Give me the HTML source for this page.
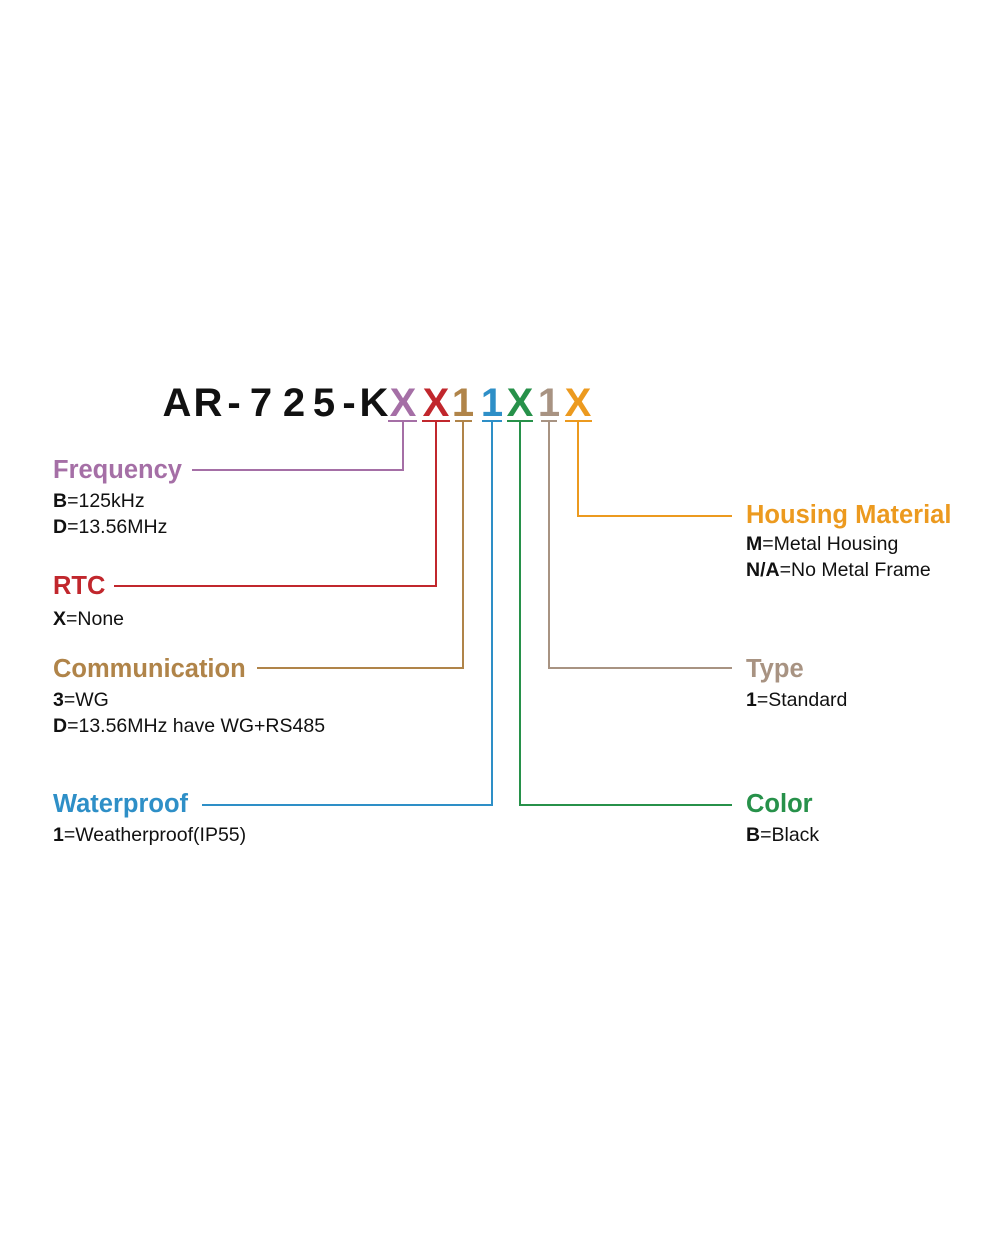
<!DOCTYPE html>
<html><head><meta charset="utf-8"><style>
html,body{margin:0;padding:0;background:#fff;}
svg{display:block}
.h{font-family:"Liberation Sans",sans-serif;font-weight:bold;font-size:25.5px}
.s{font-family:"Liberation Sans",sans-serif;font-size:19.5px;fill:#111}
.s tspan.b{font-weight:bold}
.t{font-family:"Liberation Sans",sans-serif;font-weight:bold;font-size:40px;text-anchor:middle}
</style></head><body>
<svg width="1000" height="1250" viewBox="0 0 1000 1250" xmlns="http://www.w3.org/2000/svg">
<g class="t">
<text x="177" y="416" fill="#111">A</text>
<text x="208" y="416" fill="#111">R</text>
<text x="234" y="416" fill="#111">-</text>
<text x="261" y="416" fill="#111">7</text>
<text x="294" y="416" fill="#111">2</text>
<text x="324" y="416" fill="#111">5</text>
<text x="349" y="416" fill="#111">-</text>
<text x="374" y="416" fill="#111">K</text>
<text x="403" y="416" fill="#a56fa6">X</text>
<text x="436" y="416" fill="#c1272d">X</text>
<text x="463" y="416" fill="#b08449">1</text>
<text x="492" y="416" fill="#2e8fc7">1</text>
<text x="520" y="416" fill="#27914a">X</text>
<text x="549" y="416" fill="#a89382">1</text>
<text x="578" y="416" fill="#ec9a1f">X</text>
</g>
<g fill="none" stroke-width="2">
<path d="M388 421H417M403 421V470H192" stroke="#a56fa6"/>
<path d="M422 421H450M436 421V586H114" stroke="#c1272d"/>
<path d="M455 421H472M463 421V668H257" stroke="#b08449"/>
<path d="M482 421H502M492 421V805H202" stroke="#2e8fc7"/>
<path d="M507 421H533M520 421V805H732" stroke="#27914a"/>
<path d="M541 421H557M549 421V668H732" stroke="#a89382"/>
<path d="M565 421H592M578 421V516H732" stroke="#ec9a1f"/>
</g>
<text class="h" x="53" y="478" fill="#a56fa6">Frequency</text>
<text class="s" x="53" y="507"><tspan class="b">B</tspan>=125kHz</text>
<text class="s" x="53" y="533"><tspan class="b">D</tspan>=13.56MHz</text>
<text class="h" x="53" y="594" fill="#c1272d">RTC</text>
<text class="s" x="53" y="625"><tspan class="b">X</tspan>=None</text>
<text class="h" x="53" y="677" fill="#b08449">Communication</text>
<text class="s" x="53" y="706"><tspan class="b">3</tspan>=WG</text>
<text class="s" x="53" y="732"><tspan class="b">D</tspan>=13.56MHz have WG+RS485</text>
<text class="h" x="53" y="812" fill="#2e8fc7">Waterproof</text>
<text class="s" x="53" y="841"><tspan class="b">1</tspan>=Weatherproof(IP55)</text>
<text class="h" x="746" y="523" fill="#ec9a1f">Housing Material</text>
<text class="s" x="746" y="550"><tspan class="b">M</tspan>=Metal Housing</text>
<text class="s" x="746" y="576"><tspan class="b">N/A</tspan>=No Metal Frame</text>
<text class="h" x="746" y="677" fill="#a89382">Type</text>
<text class="s" x="746" y="706"><tspan class="b">1</tspan>=Standard</text>
<text class="h" x="746" y="812" fill="#27914a">Color</text>
<text class="s" x="746" y="841"><tspan class="b">B</tspan>=Black</text>
</svg>
</body></html>
